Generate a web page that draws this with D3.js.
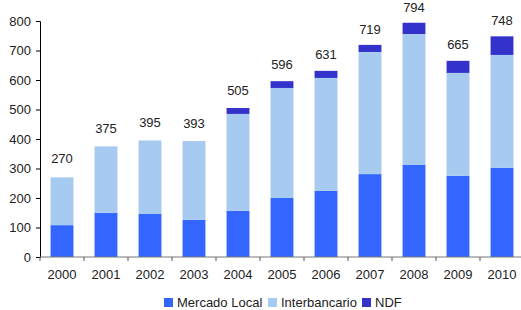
<!DOCTYPE html>
<html><head><meta charset="utf-8">
<script src="https://cdn.jsdelivr.net/npm/d3@7"></script>
<style>body{margin:0;background:#fff;} text{font-family:"Liberation Sans",Arial,sans-serif;}</style>
</head><body>
<svg id="c" width="521" height="310"></svg>
<script>
const years = ["2000","2001","2002","2003","2004","2005","2006","2007","2008","2009","2010"];
const mercadoLocal = [108,150,147,126,157,200,224,281,312,275,302];
const interbancario = [162,225,248,267,328,373,383,414,444,349,383];
const ndf = [0,0,0,0,20,23,24,24,38,41,63];
const totals = [270,375,395,393,505,596,631,719,794,665,748];
const seriesNames = ["Mercado Local","Interbancario","NDF"];
const colors = ["#3366FF","#A6CAF0","#3333CC"];
const yTicks = [0,100,200,300,400,500,600,700,800];

const svg = d3.select("#c");
const x = d3.scaleBand().domain(years).range([40,524]).paddingInner(0.48).paddingOuter(0.24);
const y = d3.scaleLinear().domain([0,800]).range([257,21]);
// label positions follow their own (slightly compressed) scale, as in the original
const yLab = d3.scaleLinear().domain([0,800]).range([241.2,10.3]);

const rows = years.map((yr,i)=>({year:yr, "Mercado Local":mercadoLocal[i], "Interbancario":interbancario[i], "NDF":ndf[i]}));
const stacked = d3.stack().keys(seriesNames)(rows);

svg.append("g").selectAll("g").data(stacked).join("g")
  .attr("fill",(d,i)=>colors[i])
  .selectAll("rect").data(d=>d).join("rect")
  .attr("x",d=>x(d.data.year)).attr("width",x.bandwidth())
  .attr("y",d=>y(d[1])).attr("height",d=>y(d[0])-y(d[1]));

// y axis
const ya = svg.append("g").attr("transform","translate(40,0)")
  .call(d3.axisLeft(y).tickValues(yTicks).tickSize(4).tickPadding(5));
ya.select(".domain").attr("stroke","#000");
ya.selectAll("line").attr("stroke","#000");
ya.selectAll("text").attr("font-size",13).attr("fill","#222").attr("font-family","Liberation Sans, Arial, sans-serif");

// x axis with tick marks at band boundaries
const xa = svg.append("g").attr("transform","translate(0,257)");
xa.append("line").attr("x1",40).attr("x2",521).attr("y1",0).attr("y2",0).attr("stroke","#777");
const step = x.step();
const bounds = d3.range(years.length+1).map(i=>x(years[0]) - x.paddingOuter()*step + i*step);
xa.selectAll("line.tk").data(bounds).join("line").attr("class","tk")
  .attr("x1",d=>d).attr("x2",d=>d).attr("y1",0).attr("y2",4).attr("stroke","#555");
xa.selectAll("text").data(years).join("text")
  .attr("x",d=>x(d)+x.bandwidth()/2).attr("y",22).attr("text-anchor","middle")
  .attr("font-size",13).attr("fill","#222").text(d=>d);

// total labels
svg.append("g").selectAll("text").data(years).join("text")
  .attr("x",d=>x(d)+x.bandwidth()/2)
  .attr("y",(d,i)=>yLab(totals[i]))
  .attr("text-anchor","middle").attr("font-size",13).attr("fill","#222")
  .text((d,i)=>totals[i]);

// legend
const legX = [164,268,362];
const lg = svg.append("g");
seriesNames.forEach((n,i)=>{
  lg.append("rect").attr("x",legX[i]).attr("y",298).attr("width",9).attr("height",9).attr("fill",colors[i]);
  lg.append("text").attr("x",legX[i]+13).attr("y",307).attr("font-size",13).attr("fill","#222").text(n);
});
</script>
</body></html>
